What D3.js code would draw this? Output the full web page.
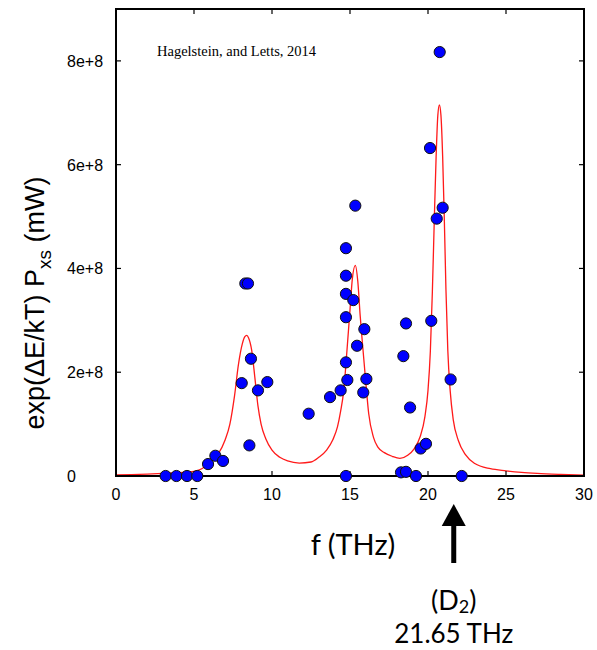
<!DOCTYPE html>
<html>
<head>
<meta charset="utf-8">
<script src="https://cdn.jsdelivr.net/npm/d3@7/dist/d3.min.js"></script>
<style>
  html, body { margin: 0; padding: 0; background: #fff; }
  svg { display: block; }
</style>
</head>
<body>
<svg id="chart" width="597" height="650"></svg>
<script>
// ---- data ----
// measured points: frequency (THz) and exp(dE/kT) Pxs (mW)
const pointF = [3.18, 3.87, 4.55, 5.21, 5.90, 6.37, 6.86, 8.06, 8.29, 8.46, 8.55, 8.65, 9.10, 9.70,
  12.35, 13.72, 14.40, 14.74, 14.74, 14.74, 14.74, 14.74, 14.83, 14.74, 15.34, 15.21, 15.45, 15.92,
  16.05, 15.85, 18.42, 18.59, 18.85, 18.27, 18.59, 19.23, 19.53, 19.87, 20.13, 20.21, 20.56, 20.94,
  20.75, 21.45, 22.16];
const pointV = [0, 0, 0, 0, 0.23e8, 0.39e8, 0.29e8, 1.79e8, 3.71e8, 3.71e8, 0.59e8, 2.26e8, 1.65e8, 1.81e8,
  1.20e8, 1.52e8, 1.65e8, 4.39e8, 3.86e8, 3.51e8, 3.06e8, 2.19e8, 1.85e8, 0, 5.21e8, 3.39e8, 2.51e8, 2.83e8,
  1.87e8, 1.61e8, 2.31e8, 2.94e8, 1.32e8, 0.07e8, 0.08e8, 0, 0.53e8, 0.62e8, 6.32e8, 2.99e8, 4.96e8, 5.17e8,
  8.17e8, 1.86e8, 0];

// fitted curve
const curveF = [0, 1, 2, 3, 4, 5, 5.5, 6.0, 6.5, 7.0, 7.3, 7.6, 7.85, 8.1, 8.25, 8.38, 8.5, 8.7, 8.9, 9.1,
  9.3, 9.6, 10.0, 10.5, 11.0, 11.75, 12.5, 13.0, 13.5, 13.9, 14.2, 14.4, 14.6, 14.8, 15.0, 15.15, 15.34,
  15.5, 15.65, 15.8, 16.0, 16.2, 16.5, 16.8, 17.2, 17.7, 18.2, 18.7, 19.1, 19.5, 19.8, 20.0, 20.15, 20.28,
  20.4, 20.52, 20.63, 20.73, 20.83, 20.94, 21.05, 21.15, 21.27, 21.42, 21.62, 21.95, 22.4, 23.0, 24.0,
  25.0, 26.0, 27.0, 28.5, 30];
const curveV = [0.02e8, 0.025e8, 0.035e8, 0.05e8, 0.065e8, 0.09e8, 0.14e8, 0.25e8, 0.40e8, 0.70e8, 1.00e8,
  1.55e8, 2.15e8, 2.55e8, 2.68e8, 2.71e8, 2.66e8, 2.42e8, 1.90e8, 1.35e8, 1.00e8, 0.72e8, 0.50e8, 0.36e8,
  0.29e8, 0.25e8, 0.27e8, 0.36e8, 0.50e8, 0.70e8, 0.95e8, 1.25e8, 1.65e8, 2.40e8, 3.20e8, 3.80e8, 4.06e8,
  3.75e8, 3.10e8, 2.55e8, 1.85e8, 1.20e8, 0.75e8, 0.55e8, 0.45e8, 0.38e8, 0.34e8, 0.40e8, 0.52e8, 0.76e8,
  1.14e8, 1.65e8, 2.40e8, 3.55e8, 4.90e8, 6.15e8, 6.95e8, 7.15e8, 6.95e8, 6.15e8, 4.90e8, 3.60e8, 2.42e8,
  1.65e8, 1.08e8, 0.68e8, 0.41e8, 0.24e8, 0.14e8, 0.10e8, 0.07e8, 0.05e8, 0.03e8, 0.015e8];

// axes
const xTicks = [0, 5, 10, 15, 20, 25, 30];
const yTicks = [0, 2e8, 4e8, 6e8, 8e8];
const yTickLabels = ["0", "2e+8", "4e+8", "6e+8", "8e+8"];

// texts
const creditText = "Hagelstein, and Letts, 2014";
const xTitle = "f (THz)";
const markerF = 21.65;
const markerLine1 = ["(D", "2", ")"];
const markerLine2 = "21.65 THz";

// ---- drawing ----
const svg = d3.select("#chart");
const L = 116, R = 584, T = 9, B = 476;
const x = d3.scaleLinear().domain([0, 30]).range([L, R]);
const y = d3.scaleLinear().domain([0, 9e8]).range([B, T]);

// curve
const line = d3.line()
  .x((d, i) => x(curveF[i]))
  .y((d, i) => y(curveV[i]))
  .curve(d3.curveMonotoneX);
svg.append("path")
  .datum(curveF)
  .attr("d", line)
  .attr("fill", "none")
  .attr("stroke", "#ff1a1a")
  .attr("stroke-width", 1.3);

// ticks (gnuplot style, inward, mirrored)
const tickLen = 5;
const tickG = svg.append("g").attr("stroke", "#000").attr("stroke-width", 1.2);
xTicks.forEach(t => {
  tickG.append("line").attr("x1", x(t)).attr("x2", x(t)).attr("y1", B).attr("y2", B - tickLen);
  tickG.append("line").attr("x1", x(t)).attr("x2", x(t)).attr("y1", T).attr("y2", T + tickLen);
});
yTicks.forEach(t => {
  tickG.append("line").attr("x1", L).attr("x2", L + tickLen).attr("y1", y(t)).attr("y2", y(t));
  tickG.append("line").attr("x1", R).attr("x2", R - tickLen).attr("y1", y(t)).attr("y2", y(t));
});

// frame
svg.append("rect")
  .attr("x", L).attr("y", T).attr("width", R - L).attr("height", B - T)
  .attr("fill", "none").attr("stroke", "#000").attr("stroke-width", 2);

// tick labels
svg.append("g").selectAll("text").data(xTicks).join("text")
  .attr("x", d => x(d)).attr("y", B + 24)
  .attr("text-anchor", "middle")
  .attr("font-family", "'Liberation Sans', Arial, sans-serif")
  .attr("font-size", 16)
  .text(d => d);
svg.append("g").selectAll("text").data(yTicks).join("text")
  .attr("x", 67).attr("y", d => y(d) + 6)
  .attr("text-anchor", "start")
  .attr("font-family", "'Liberation Sans', Arial, sans-serif")
  .attr("font-size", 16)
  .text((d, i) => yTickLabels[i]);

// credit
svg.append("text")
  .attr("x", 157).attr("y", 56)
  .attr("font-family", "'Liberation Serif', 'Times New Roman', serif")
  .attr("font-size", 14.5)
  .text(creditText);

// points
svg.append("g").selectAll("circle").data(pointF).join("circle")
  .attr("cx", (d, i) => x(pointF[i]))
  .attr("cy", (d, i) => y(pointV[i]))
  .attr("r", 5.6)
  .attr("fill", "#0000ff")
  .attr("stroke", "#111")
  .attr("stroke-width", 1);

// y-axis title
const yt = svg.append("text")
  .attr("transform", "translate(44,303) rotate(-90)")
  .attr("text-anchor", "middle")
  .attr("font-family", "'Liberation Sans', Arial, sans-serif")
  .attr("font-size", 27);
yt.append("tspan").text("exp(\u0394E/kT) P");
yt.append("tspan").attr("font-size", 19).attr("dy", 7).text("xs");
yt.append("tspan").attr("dy", -7).text(" (mW)");

// x-axis title
svg.append("text")
  .attr("x", 353).attr("y", 555)
  .attr("text-anchor", "middle")
  .attr("font-family", "Lato, 'Open Sans', sans-serif")
  .attr("font-size", 29)
  .text(xTitle);

// marker arrow
const ax = x(markerF);
svg.append("line")
  .attr("x1", ax).attr("x2", ax).attr("y1", 520).attr("y2", 563)
  .attr("stroke", "#000").attr("stroke-width", 5);
svg.append("path")
  .attr("d", `M${ax},504 L${ax - 12},526 L${ax + 12},526 Z`)
  .attr("fill", "#000");

// marker text
const m1 = svg.append("text")
  .attr("x", ax).attr("y", 610)
  .attr("text-anchor", "middle")
  .attr("font-family", "Lato, 'Open Sans', sans-serif")
  .attr("font-size", 27);
m1.append("tspan").text(markerLine1[0]);
m1.append("tspan").attr("font-size", 18).attr("dy", 3).text(markerLine1[1]);
m1.append("tspan").attr("dy", -3).text(markerLine1[2]);
svg.append("text")
  .attr("x", ax).attr("y", 643)
  .attr("text-anchor", "middle")
  .attr("font-family", "Lato, 'Open Sans', sans-serif")
  .attr("font-size", 26)
  .text(markerLine2);
</script>
</body>
</html>
